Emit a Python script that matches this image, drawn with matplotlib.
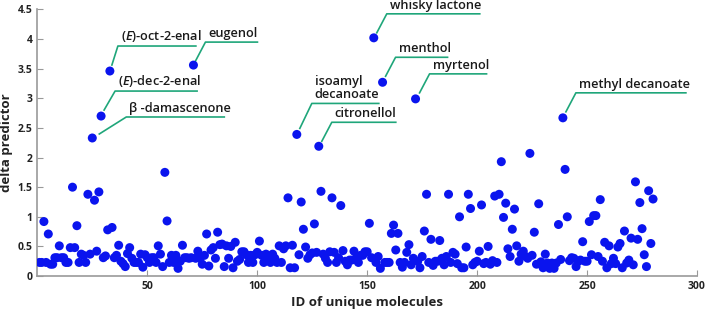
import matplotlib
matplotlib.use('Agg')
import matplotlib.pyplot as plt
import matplotlib.transforms as mtransforms

plt.rcParams['font.family'] = ['Open Sans', 'DejaVu Sans']
plt.rcParams['mathtext.fontset'] = 'custom'
plt.rcParams['mathtext.it'] = 'Open Sans:italic:semibold'
plt.rcParams['mathtext.rm'] = 'Open Sans:semibold'

# delta predictor for each unique molecule (ID 1..280)
delta = [
    0.23, 0.23, 0.92, 0.23, 0.71, 0.20, 0.20, 0.31, 0.31, 0.51,
    0.31, 0.31, 0.23, 0.23, 0.48, 1.50, 0.48, 0.85, 0.23, 0.37,
    0.35, 0.23, 1.38, 0.37, 2.33, 1.28, 0.42, 1.42, 2.70, 0.31,
    0.34, 0.78, 3.46, 0.82, 0.31, 0.35, 0.52, 0.25, 0.21, 0.16,
    0.38, 0.48, 0.30, 0.23, 0.23, 0.23, 0.37, 0.15, 0.36, 0.31,
    0.23, 0.31, 0.31, 0.23, 0.51, 0.37, 0.16, 1.75, 0.93, 0.23,
    0.35, 0.23, 0.35, 0.13, 0.25, 0.52, 0.31, 0.31, 0.30, 0.31,
    3.56, 0.30, 0.42, 0.30, 0.20, 0.35, 0.71, 0.17, 0.44, 0.48,
    0.30, 0.74, 0.53, 0.54, 0.16, 0.51, 0.30, 0.50, 0.14, 0.57,
    0.25, 0.28, 0.41, 0.41, 0.36, 0.23, 0.35, 0.23, 0.36, 0.40,
    0.59, 0.35, 0.23, 0.37, 0.30, 0.23, 0.37, 0.30, 0.23, 0.51,
    0.23, 0.46, 0.51, 1.32, 0.14, 0.52, 0.14, 2.39, 0.36, 1.25,
    0.79, 0.49, 0.30, 0.36, 0.39, 0.88, 0.40, 2.19, 1.43, 0.37,
    0.30, 0.23, 0.41, 1.32, 0.40, 0.23, 0.31, 1.19, 0.43, 0.25,
    0.19, 0.27, 0.27, 0.42, 0.30, 0.23, 0.35, 0.35, 0.41, 0.41,
    0.89, 0.31, 4.02, 0.23, 0.33, 0.13, 3.27, 0.23, 0.23, 0.23,
    0.72, 0.86, 0.44, 0.72, 0.23, 0.15, 0.23, 0.40, 0.53, 0.19,
    0.30, 2.99, 0.25, 0.14, 0.33, 0.76, 1.38, 0.23, 0.62, 0.18,
    0.25, 0.25, 0.60, 0.30, 0.19, 0.33, 1.38, 0.23, 0.40, 0.37,
    0.21, 1.00, 0.14, 0.14, 0.49, 1.38, 1.14, 0.19, 0.23, 0.25,
    0.42, 1.20, 0.21, 0.23, 0.50, 0.20, 0.26, 1.35, 0.23, 1.38,
    1.93, 0.99, 1.23, 0.46, 0.33, 0.79, 1.13, 0.51, 0.25, 0.37,
    0.42, 0.33, 0.30, 2.07, 0.35, 0.74, 0.20, 1.22, 0.24, 0.14,
    0.37, 0.22, 0.13, 0.22, 0.13, 0.22, 0.87, 0.28, 2.67, 1.80,
    1.00, 0.26, 0.31, 0.30, 0.16, 0.25, 0.27, 0.58, 0.25, 0.25,
    0.92, 0.36, 1.02, 1.02, 0.33, 1.29, 0.25, 0.57, 0.14, 0.51,
    0.21, 0.30, 0.21, 0.49, 0.55, 0.14, 0.76, 0.22, 0.27, 0.64,
    0.19, 1.59, 0.62, 1.24, 0.80, 0.36, 0.16, 1.44, 0.55, 1.30,
]
ids = list(range(1, len(delta) + 1))

# labelled molecules: (ID, name)
labelled = [
    (25, 'β -damascenone'),
    (29, '($\\mathit{E}$)-dec-2-enal'),
    (33, '($\\mathit{E}$)-oct-2-enal'),
    (71, 'eugenol'),
    (118, 'isoamyl\ndecanoate'),
    (128, 'citronellol'),
    (153, 'whisky lactone'),
    (157, 'menthol'),
    (172, 'myrtenol'),
    (239, 'methyl decanoate'),
]
# leader line layout in pixels: start offset, elbow offset, underline length
leaders = {
    25: ((7, 4), (34, 21), 98),
    29: ((3, 6), (14, 25), 82),
    33: ((2, 6), (8, 25), 78),
    71: ((2, 4), (12, 23), 52),
    118: ((3, 6), (15, 31), 67),
    128: ((3, 5), (13, 24), 64),
    153: ((3, 5), (13, 24), 93),
    157: ((3, 6), (13, 25), 52),
    172: ((4, 6), (14, 25), 57),
    239: ((3, 6), (13, 25), 110),
}

fig = plt.figure(figsize=(7.08, 3.13), dpi=100)
ax = fig.add_axes([0.0527, 0.118, 0.9318, 0.852])

ax.scatter(ids, delta, s=42, color='#0a14ee', edgecolors='none', zorder=3)

green = '#1fa67a'
for mid, name in labelled:
    x, y = mid, delta[mid - 1]
    (sx, sy), (ex, ey), L = leaders[mid]
    tr = mtransforms.Affine2D() + mtransforms.ScaledTranslation(x, y, ax.transData)
    ax.plot([sx, ex, ex + L], [sy, ey, ey], color=green, lw=1.2,
            transform=tr, clip_on=False, zorder=2)
    ax.annotate(name, xy=(x, y), xytext=(ex + 3, ey + 2),
                textcoords='offset pixels', ha='left', va='bottom',
                fontsize=9.2, fontweight='semibold', color='#1a1a1a',
                linespacing=1.0)

ax.set_xlim(0, 300)
ax.set_ylim(0, 4.5)
ax.set_xticks([50, 100, 150, 200, 250, 300])
ax.set_yticks([0, 0.5, 1, 1.5, 2, 2.5, 3, 3.5, 4, 4.5])
ax.set_yticklabels(['0', '0.5', '1', '1.5', '2', '2.5', '3', '3.5', '4', '4.5'])
ax.tick_params(direction='in', length=4, color='#999999', labelsize=7.5,
               labelcolor='#222222')
for lab in ax.get_xticklabels() + ax.get_yticklabels():
    lab.set_fontweight('bold')
for side in ['top', 'right']:
    ax.spines[side].set_visible(False)
for side in ['left', 'bottom']:
    ax.spines[side].set_color('#999999')
    ax.spines[side].set_linewidth(1.2)

ax.set_xlabel('ID of unique molecules', fontsize=9.5, fontweight='bold',
              color='#222222', labelpad=3)
ax.set_ylabel('delta predictor', fontsize=9.5, fontweight='bold',
              color='#222222', labelpad=3)

fig.savefig('out.png', dpi=100)
